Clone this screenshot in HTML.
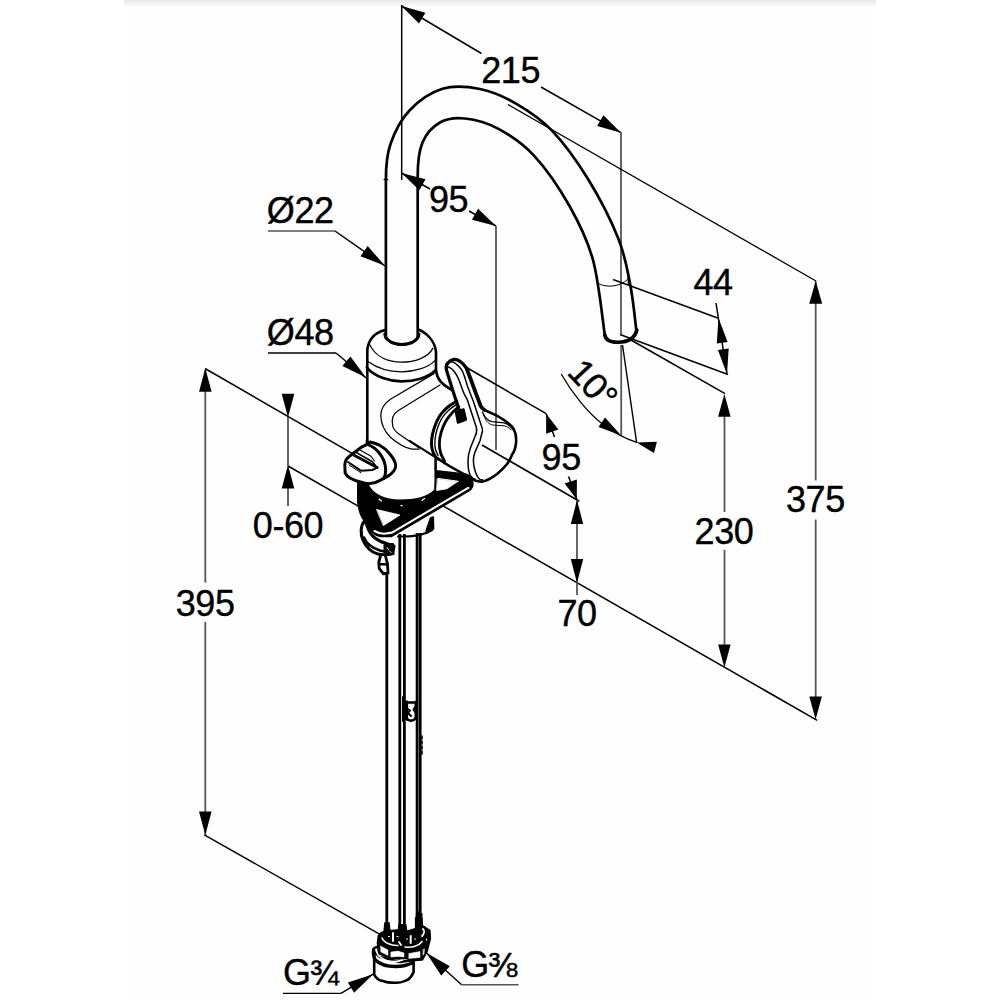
<!DOCTYPE html>
<html><head><meta charset="utf-8"><title>Faucet dimensions</title>
<style>
html,body{margin:0;padding:0;background:#fff;}
.sheet{position:absolute;left:124px;top:0;width:752px;height:1000px;background:#fefefe;}
body{width:1000px;height:1000px;overflow:hidden;position:relative;}
.strip{position:absolute;left:124px;top:0;width:752px;height:8px;background:linear-gradient(#e6e6e6,#f6f6f6 50%,#fefefe);}
svg{position:absolute;left:0;top:0;}
svg text{font-family:"Liberation Sans",Arial,sans-serif;fill:#000;letter-spacing:-0.4px;stroke:#000;stroke-width:0.4px;stroke-linejoin:round;}
</style></head><body>
<div class="sheet"></div>
<div class="strip"></div>
<svg width="1000" height="1000" viewBox="0 0 1000 1000">
<line x1="401.7" y1="5" x2="401.7" y2="180" stroke="#000" stroke-width="1.5" />
<line x1="401.5" y1="6" x2="481.5" y2="53.5" stroke="#000" stroke-width="1.5" />
<line x1="541" y1="87" x2="621" y2="132.7" stroke="#000" stroke-width="1.5" />
<polygon points="401.5,6.0 425.4,12.8 419.0,23.6" fill="#000"/>
<polygon points="621.0,132.7 597.1,126.1 603.4,115.3" fill="#000"/>
<text x="510.7" y="83" font-size="36" text-anchor="middle" >215</text>
<line x1="621" y1="132" x2="621" y2="334" stroke="#555" stroke-width="1.8" />
<line x1="621.2" y1="345" x2="621.2" y2="435.4" stroke="#555" stroke-width="1.8" />
<line x1="508" y1="104.5" x2="816" y2="281" stroke="#000" stroke-width="1.3" />
<line x1="815.7" y1="281" x2="815.7" y2="480.4" stroke="#555" stroke-width="1.8" />
<line x1="815.7" y1="519.6" x2="815.7" y2="700" stroke="#555" stroke-width="1.8" />
<polygon points="815.7,281.0 822.2,303.8 809.2,303.8" fill="#000"/>
<polygon points="815.6,719.6 809.3,696.4 821.9,696.4" fill="#000"/>
<text x="815.4" y="511.5" font-size="36" text-anchor="middle" >375</text>
<line x1="631" y1="340" x2="725" y2="393.6" stroke="#000" stroke-width="1.5" />
<line x1="724.5" y1="400" x2="724.5" y2="512" stroke="#555" stroke-width="1.8" />
<line x1="724.5" y1="550" x2="724.5" y2="650" stroke="#555" stroke-width="1.8" />
<polygon points="724.4,394.0 730.6,416.8 718.1,416.8" fill="#000"/>
<polygon points="724.4,667.4 718.1,644.6 730.6,644.6" fill="#000"/>
<text x="724" y="544" font-size="36" text-anchor="middle" >230</text>
<line x1="613" y1="279.5" x2="719" y2="318.5" stroke="#000" stroke-width="1.4" />
<line x1="620" y1="334.5" x2="728" y2="374.5" stroke="#000" stroke-width="1.5" />
<line x1="716" y1="303" x2="727" y2="374" stroke="#000" stroke-width="1.5" />
<polygon points="718.5,318.0 727.6,341.9 716.8,343.5" fill="#000"/>
<polygon points="727.0,374.0 717.9,350.1 728.7,348.5" fill="#000"/>
<text x="713" y="295" font-size="36" text-anchor="middle" >44</text>
<line x1="622.5" y1="345" x2="636.6" y2="442.4" stroke="#000" stroke-width="1.4" />
<path d="M561.5,374.5 C572,393 588,413 603,424.5 C613,432 625,438.5 636.6,442.4" stroke="#000" stroke-width="1.3" fill="none" stroke-linecap="round" stroke-linejoin="round" />
<polygon points="621.2,435.4 598.5,427.0 605.0,417.4" fill="#000"/>
<polygon points="636.6,442.4 656.9,441.8 654.0,453.0" fill="#000"/>
<text font-size="36" transform="translate(566,373.2) rotate(47)" x="0" y="0" style="letter-spacing:-0.8px">10°</text>
<line x1="401.5" y1="173" x2="430" y2="189" stroke="#000" stroke-width="1.5" />
<line x1="469" y1="211" x2="496" y2="226" stroke="#000" stroke-width="1.5" />
<polygon points="401.5,173.0 425.5,179.2 419.4,190.2" fill="#000"/>
<polygon points="496.0,226.0 472.0,219.8 478.1,208.8" fill="#000"/>
<text x="448.5" y="212" font-size="36" text-anchor="middle" >95</text>
<line x1="496" y1="226" x2="496" y2="450" stroke="#555" stroke-width="1.8" />
<line x1="467.4" y1="368" x2="546.2" y2="413.7" stroke="#000" stroke-width="1.5" />
<line x1="482" y1="445" x2="579.3" y2="501.3" stroke="#000" stroke-width="1.6" />
<line x1="546.2" y1="413.7" x2="576.8" y2="499.5" stroke="#000" stroke-width="1.5" />
<polygon points="546.2,413.7 558.4,429.6 546.1,433.8" fill="#000"/>
<polygon points="576.8,499.5 564.6,483.6 576.9,479.4" fill="#000"/>
<rect x="540" y="437" width="44" height="39.5" fill="#fefefe"/>
<text x="561.2" y="469.5" font-size="36" text-anchor="middle" >95</text>
<line x1="205" y1="368.5" x2="353.4" y2="454.2" stroke="#000" stroke-width="1.55" />
<line x1="443.4" y1="506.1" x2="817.2" y2="720.4" stroke="#000" stroke-width="1.55" />
<line x1="288" y1="466" x2="359.5" y2="506.8" stroke="#000" stroke-width="1.5" />
<line x1="205.3" y1="370" x2="205.3" y2="582.5" stroke="#555" stroke-width="1.8" />
<line x1="205.3" y1="622" x2="205.3" y2="835" stroke="#555" stroke-width="1.8" />
<polygon points="205.3,368.3 211.6,391.8 199.0,391.8" fill="#000"/>
<polygon points="205.3,835.0 199.0,811.5 211.6,811.5" fill="#000"/>
<text x="205.2" y="615.5" font-size="36" text-anchor="middle" >395</text>
<line x1="204.3" y1="834.9" x2="380" y2="934.4" stroke="#000" stroke-width="1.4" />
<line x1="288" y1="417" x2="288" y2="466" stroke="#555" stroke-width="1.8" />
<line x1="288" y1="488" x2="288" y2="506" stroke="#555" stroke-width="1.8" />
<polygon points="288.0,417.3 281.7,393.8 294.3,393.8" fill="#000"/>
<polygon points="288.0,465.0 294.3,488.5 281.7,488.5" fill="#000"/>
<text x="288" y="537.5" font-size="36" text-anchor="middle" >0-60</text>
<line x1="577" y1="500" x2="577" y2="595" stroke="#555" stroke-width="1.8" />
<polygon points="577.0,500.0 583.2,524.0 570.8,524.0" fill="#000"/>
<polygon points="577.0,583.0 570.8,559.0 583.2,559.0" fill="#000"/>
<text x="577" y="626" font-size="36" text-anchor="middle" >70</text>
<text x="266.8" y="222.5" font-size="36" text-anchor="start" >Ø22</text>
<line x1="268" y1="231" x2="335" y2="231" stroke="#555" stroke-width="1.5" />
<line x1="335" y1="231" x2="385" y2="266" stroke="#000" stroke-width="1.5" />
<polygon points="385.0,265.8 360.5,256.3 367.7,246.1" fill="#000"/>
<text x="266.8" y="344.5" font-size="36" text-anchor="start" >Ø48</text>
<line x1="268" y1="353" x2="336" y2="353" stroke="#000" stroke-width="1.5" />
<line x1="336" y1="353" x2="366" y2="378" stroke="#000" stroke-width="1.5" />
<polygon points="366.0,377.5 342.4,366.0 350.4,356.4" fill="#000"/>
<text x="283" y="985" font-size="36" text-anchor="start" >G<tspan stroke="#000" stroke-width="0.5" dx="-0.8" font-size="35">¾</tspan></text>
<line x1="283" y1="993.4" x2="341" y2="993.4" stroke="#000" stroke-width="1.4" />
<line x1="341" y1="993.4" x2="373" y2="974.2" stroke="#000" stroke-width="1.4" />
<polygon points="373.2,974.2 354.1,992.8 347.9,982.6" fill="#000"/>
<text x="461.2" y="977" font-size="36" text-anchor="start" >G<tspan stroke="#000" stroke-width="0.5" dx="-0.8" font-size="35">⅜</tspan></text>
<line x1="461.6" y1="984.7" x2="518.6" y2="984.7" stroke="#555" stroke-width="1.5" />
<line x1="461.6" y1="984.7" x2="426.2" y2="952.8" stroke="#000" stroke-width="1.4" />
<polygon points="426.2,952.8 449.8,966.2 441.2,975.4" fill="#000"/>
<path d="M385.9,338 L385.9,179.5 C385.90,167.67 386.57,155.50 390.50,144.00 C394.43,132.50 400.83,119.70 409.50,110.50 C418.17,101.30 430.75,92.38 442.50,88.80 C454.25,85.22 467.75,86.53 480.00,89.00 C492.25,91.47 504.00,96.67 516.00,103.60 C528.00,110.53 540.00,118.03 552.00,130.60 C564.00,143.17 576.95,161.03 588.00,179.00 C599.05,196.97 611.25,220.73 618.30,238.40 C625.35,256.07 627.30,269.73 630.30,285.00 C633.30,300.27 635.30,322.50 636.30,330.00" stroke="#000" stroke-width="2.7" fill="none" stroke-linecap="round" stroke-linejoin="round" />
<path d="M384.3,179.5 L387.5,179.5" stroke="#000" stroke-width="1.6" fill="none" stroke-linecap="round" stroke-linejoin="round" />
<path d="M417.7,338 L417.7,176 C417.70,164.83 418.78,151.42 422.50,142.50 C426.22,133.58 432.92,126.50 440.00,122.50 C447.08,118.50 455.33,117.48 465.00,118.50 C474.67,119.52 486.50,122.42 498.00,128.60 C509.50,134.78 522.08,142.70 534.00,155.60 C545.92,168.50 559.67,188.60 569.50,206.00 C579.33,223.40 587.12,238.50 593.00,260.00 C598.88,281.50 602.83,322.50 604.80,335.00" stroke="#000" stroke-width="2.7" fill="none" stroke-linecap="round" stroke-linejoin="round" />
<path d="M604.8,335 C606,340 609,342 618,342.3 C628,342 635,338 636.8,330" stroke="#000" stroke-width="3.6" fill="none" stroke-linecap="round" stroke-linejoin="round" />
<path d="M598.5,283.5 C606,288 620,287 627.5,279.5" stroke="#000" stroke-width="1" fill="none" stroke-linecap="round" stroke-linejoin="round" />
<path d="M628.3,277 L628.5,284" stroke="#000" stroke-width="1.6" fill="none" stroke-linecap="round" stroke-linejoin="round" />
<path d="M384.8,334 C386.3,348 417.5,348 419,334" stroke="#000" stroke-width="3" fill="none" stroke-linecap="round" stroke-linejoin="round" />
<path d="M367.3,444 L367.3,350 C368.3,340 374,333 385,330" stroke="#000" stroke-width="2.6" fill="none" stroke-linecap="round" stroke-linejoin="round" />
<path d="M419,329.8 C428,334 435,342 436,352 L436,370 C437,379 441,384 452,390" stroke="#000" stroke-width="2.6" fill="none" stroke-linecap="round" stroke-linejoin="round" />
<path d="M369.8,344.8 C376,358 390,362 401.6,362.2 C414,362 428,358 432.8,348.4" stroke="#000" stroke-width="1.25" fill="none" stroke-linecap="round" stroke-linejoin="round" />
<path d="M368,361.6 C378,369 390,371.8 401.6,371.8 C414,371.8 428,368 435.2,360.4" stroke="#000" stroke-width="1.25" fill="none" stroke-linecap="round" stroke-linejoin="round" />
<path d="M366.8,367.6 C375,377 390,381.4 401.6,381.4 C414,381.4 428,378 435.8,370" stroke="#000" stroke-width="2.6" fill="none" stroke-linecap="round" stroke-linejoin="round" />
<path d="M434,373.6 L390.8,399 C384,403.5 380.8,409 380.8,415.6 C381,424 385,432 390.4,437.2 C397,443 406,448 412,449.2 L419.2,449.2" stroke="#000" stroke-width="1.25" fill="none" stroke-linecap="round" stroke-linejoin="round" />
<path d="M440,385 L398,410.8 C393,414 391,419 392.8,426.4 C394,430 397,433 400,434.8 L419.2,448" stroke="#000" stroke-width="1.25" fill="none" stroke-linecap="round" stroke-linejoin="round" />
<path d="M409.6,440.8 L436,457.6" stroke="#000" stroke-width="2" fill="none" stroke-linecap="round" stroke-linejoin="round" />
<path d="M435.6,457.6 L435.6,490" stroke="#000" stroke-width="2.6" fill="none" stroke-linecap="round" stroke-linejoin="round" />
<path d="M456.80,401.20 C455.30,402.17 450.67,404.53 447.80,407.00 C444.93,409.47 441.87,412.50 439.60,416.00 C437.33,419.50 435.53,424.00 434.20,428.00 C432.87,432.00 431.93,436.42 431.60,440.00 C431.27,443.58 431.63,446.83 432.20,449.50 C432.77,452.17 433.83,454.33 435.00,456.00 C436.17,457.67 438.50,458.92 439.20,459.50" stroke="#000" stroke-width="3" fill="none" stroke-linecap="round" stroke-linejoin="round" />
<path d="M458.00,403.50 C456.58,404.50 452.17,407.08 449.50,409.50 C446.83,411.92 444.05,414.75 442.00,418.00 C439.95,421.25 438.37,425.33 437.20,429.00 C436.03,432.67 435.30,436.67 435.00,440.00 C434.70,443.33 434.90,446.42 435.40,449.00 C435.90,451.58 437.57,454.42 438.00,455.50" stroke="#000" stroke-width="1.4" fill="none" stroke-linecap="round" stroke-linejoin="round" />
<path d="M458.80,406.80 C457.67,407.83 454.23,410.47 452.00,413.00 C449.77,415.53 447.20,418.80 445.40,422.00 C443.60,425.20 442.20,428.70 441.20,432.20 C440.20,435.70 439.50,439.53 439.40,443.00 C439.30,446.47 439.75,450.00 440.60,453.00 C441.45,456.00 443.85,459.67 444.50,461.00" stroke="#000" stroke-width="2.8" fill="none" stroke-linecap="round" stroke-linejoin="round" />
<path d="M439.2,459.5 C444,463 456,470 469.2,476.8" stroke="#000" stroke-width="2.6" fill="none" stroke-linecap="round" stroke-linejoin="round" />
<path d="M459.5,411 L452.3,389 L446.3,369.5 C445.7,366 446.3,364.5 447.8,363 C449.3,361 451.3,359.8 453.8,359.4 C456.3,359 458.3,360 459.8,361.2 C462.5,363 465,366 466.6,368.4" stroke="#000" stroke-width="3.2" fill="none" stroke-linecap="round" stroke-linejoin="round" />
<path d="M466.6,368.4 L471,380 L475.8,393.2 L480.6,405.8 C481.5,407.5 483,409 484.5,410" stroke="#000" stroke-width="3.8" fill="none" stroke-linecap="round" stroke-linejoin="round" />
<path d="M484.5,410 L496.8,415.6 C503,419 510,424 513.6,428.8 C516,433 516.5,438 516,443.2 C515.5,448 514,452 512.4,454 C510,460 508,463 506.4,464.8 C503,469 500,471.5 498,473.2 C494,476.5 489,480 482.4,481.6 C478,482 473,480 469.2,476.8" stroke="#000" stroke-width="2.6" fill="none" stroke-linecap="round" stroke-linejoin="round" />
<path d="M447.3,369 C447.5,367 448.5,366.8 449.4,367.4 C451.5,368.5 453.5,370.5 454.8,372.2 C456.5,374.5 458,377.5 459,380 L463.8,393.2 L467.4,400 L476.4,427.6 C477,431 476.5,434 475.2,436 L470.4,448 C468.5,453 468,458 468,462 C468,468 469,473 470.4,475.6 C472,478 474,479 475.2,479.2" stroke="#000" stroke-width="1.5" fill="none" stroke-linecap="round" stroke-linejoin="round" />
<path d="M447.5,364.5 C448.5,362.5 449.5,362 450.6,361.7 C452.5,361.5 454.5,362.5 456,363.8 C458.5,365.5 460.5,368 462,370.4 C463.5,373 464.5,376 467.4,386 L473.4,401.6 L481.2,425.2 C482.5,428 482.6,430 482.4,431.2 L480,440.8 L475.2,451.6 C473.5,456 473.4,459 473.4,460 C473.4,466 474,470 477.6,476.8 C479,479 481,480 482.4,479.8" stroke="#000" stroke-width="1.5" fill="none" stroke-linecap="round" stroke-linejoin="round" />
<path d="M482.4,412 C484,416 485.5,418 487.2,419.2 C488.5,420.5 490,421.3 492,421.6 L504,422.8 C506.5,423.3 508.5,424.5 510,426.4 L513.6,430" stroke="#000" stroke-width="1.25" fill="none" stroke-linecap="round" stroke-linejoin="round" />
<path d="M483.6,414.4 C485,419 486.5,421.5 488.4,422.8 C490,424.3 492,425 494.4,425.2 L504,425.8 C507,426.3 509.5,428 511.2,430" stroke="#000" stroke-width="1" fill="none" stroke-linecap="round" stroke-linejoin="round" />
<path d="M456,412 L463.5,409.5 L465.8,419.5 L458,422.5 Z" stroke="#000" stroke-width="2.5" fill="#000" stroke-linecap="round" stroke-linejoin="round" />
<path d="M358,483 L358,502 C359,510 361,516 364,520 C367,526 369,529 371.5,530.5 C374,534 377,536 380.5,536.2 L391.5,536.2 L469.5,490.2 C472,488 473,485.5 472.5,482.5 C471.5,479 470,476.5 467.5,475 C465,473.8 462,473.5 458.5,473.5 L436,471 L436,486 Z" stroke="#000" stroke-width="2" fill="#000" stroke-linecap="round" stroke-linejoin="round" />
<path d="M368.5,478 L368.5,484 C373,494 385,499.5 400,499.5 C415,499.5 428,496.5 434.2,489.5 L434.2,470 L400,470 Z" stroke="none" stroke-width="0" fill="#fefefe" stroke-linecap="round" stroke-linejoin="round" />
<path d="M367,440 L367,446" stroke="#000" stroke-width="2.6" fill="none" stroke-linecap="round" stroke-linejoin="round" />
<path d="M376.8,509.5 L400,515 L383.6,525.5 Z" stroke="#fefefe" stroke-width="0.8" fill="#fefefe" stroke-linecap="round" stroke-linejoin="round" />
<path d="M437.5,479 L457.5,481.7 L447,488.8 L436.8,490.5 Z" stroke="#fefefe" stroke-width="0.8" fill="#fefefe" stroke-linecap="round" stroke-linejoin="round" />
<path d="M437,475 L462,478" stroke="#000" stroke-width="3" fill="none" stroke-linecap="round" stroke-linejoin="round" />
<path d="M438,478.4 L458.4,481.3" stroke="#fefefe" stroke-width="1" fill="none" stroke-linecap="round" stroke-linejoin="round" />
<path d="M374.5,531 C378,533 381,533.8 384,533.8 L392,532.6 L468.2,487.8" stroke="#fefefe" stroke-width="2.1" fill="none" stroke-linecap="round" stroke-linejoin="round" />
<path d="M379,499 L381.5,501 M422,500.5 L424.5,498.5 M401,505.6 L402.2,505.6" stroke="#fefefe" stroke-width="1.2" fill="none" stroke-linecap="round" stroke-linejoin="round" />
<path d="M396,535.5 L432,514.5 L434,517 L434,528 C431,531 428,532.5 426,533 C420,535.5 408,536.5 397,536.2 Z" stroke="none" stroke-width="0" fill="#fefefe" stroke-linecap="round" stroke-linejoin="round" />
<path d="M433,527 C431,531 428,532.5 426,533 C420,535.5 408,536.8 398,536.5" stroke="#000" stroke-width="2" fill="none" stroke-linecap="round" stroke-linejoin="round" />
<path d="M430.5,518 L433.3,517 L433.6,528.5 C432,531 429,532 426,531 Z" stroke="#000" stroke-width="1.5" fill="#000" stroke-linecap="round" stroke-linejoin="round" />
<path d="M365,520.5 C362.5,523 361.5,526 361.2,530 C361,534 361.5,537 363,540 C365,544.5 367.5,547.5 369,549 C372,552 375,553.3 378,554 L384,555 L392.5,553.5 L394,546 L388,544 C383,543 379,541 375,538 C371.5,535.5 369,531.5 367.5,527 Z" stroke="#000" stroke-width="3.1" fill="#fefefe" stroke-linecap="round" stroke-linejoin="round" />
<path d="M364,537.5 C366,543 372,548 380,550.5 L384.5,551.5" stroke="#000" stroke-width="2.6" fill="none" stroke-linecap="round" stroke-linejoin="round" />
<path d="M384.5,545 L393,544 L393.5,554 L384.5,555.5 Z" stroke="#000" stroke-width="2" fill="#000" stroke-linecap="round" stroke-linejoin="round" />
<path d="M387,547.5 L388.5,549.5 M389.5,551 L391,552.5" stroke="#fefefe" stroke-width="1" fill="none" stroke-linecap="round" stroke-linejoin="round" />
<path d="M380.5,556 L378.8,562 L379.2,568.5 L383.5,573.8 L388,573 L387.5,564 L385.5,556" stroke="#000" stroke-width="2.8" fill="#fefefe" stroke-linecap="round" stroke-linejoin="round" />
<path d="M379,564 L387.5,564.5" stroke="#000" stroke-width="2.4" fill="none" stroke-linecap="round" stroke-linejoin="round" />
<line x1="386.8" y1="573" x2="386.8" y2="926" stroke="#000" stroke-width="2.8" />
<line x1="399.8" y1="534" x2="399.8" y2="926" stroke="#000" stroke-width="2.8" />
<line x1="404.4" y1="534" x2="404.4" y2="926" stroke="#000" stroke-width="2.8" />
<line x1="417.1" y1="533" x2="417.1" y2="926" stroke="#000" stroke-width="2.8" />
<line x1="420.2" y1="533" x2="420.2" y2="926" stroke="#000" stroke-width="2.8" />
<path d="M405.5,702 L416,702 L416,721.5 L405.5,721.5 Z" stroke="none" stroke-width="0" fill="#fefefe" stroke-linecap="round" stroke-linejoin="round" />
<path d="M404.5,702.5 L417,702.5" stroke="#000" stroke-width="2.6" fill="none" stroke-linecap="round" stroke-linejoin="round" />
<path d="M406.3,702 L406.3,719" stroke="#000" stroke-width="3.6" fill="none" stroke-linecap="round" stroke-linejoin="round" />
<path d="M415.8,702 L415.8,719" stroke="#000" stroke-width="2.6" fill="none" stroke-linecap="round" stroke-linejoin="round" />
<path d="M405.5,716.5 C408,722 414,722 416.5,716.5" stroke="#000" stroke-width="2.6" fill="none" stroke-linecap="round" stroke-linejoin="round" />
<path d="M407,708.5 L410,710.5 L408,713 L411,716 M416,706 L413.5,709.5 L415.5,712.5" stroke="#000" stroke-width="2" fill="none" stroke-linecap="round" stroke-linejoin="round" />
<path d="M403,697 L403,721" stroke="#000" stroke-width="2" fill="none" stroke-linecap="round" stroke-linejoin="round" />
<path d="M422,736 L422,756" stroke="#000" stroke-width="1.6" fill="none" stroke-linecap="round" stroke-linejoin="round" stroke-dasharray="3 2"/>
<path d="M418.6,914 L418.6,930" stroke="#000" stroke-width="5.6" fill="none" stroke-linecap="round" stroke-linejoin="round" />
<path d="M421.8,914 L421.8,924" stroke="#000" stroke-width="1.6" fill="none" stroke-linecap="round" stroke-linejoin="round" stroke-dasharray="2 1.5"/>
<path d="M385.3,923 L388.7,923 L389.5,931 L384.5,931 Z" stroke="#000" stroke-width="2.2" fill="#000" stroke-linecap="round" stroke-linejoin="round" />
<path d="M399.3,925 L405.5,925 L406.5,934 L398.5,932 Z" stroke="#000" stroke-width="2.2" fill="#000" stroke-linecap="round" stroke-linejoin="round" />
<path d="M416,918 L421.5,918 L422,926 L425,927.5 L425,934 L416,934 Z" stroke="#000" stroke-width="2.2" fill="#000" stroke-linecap="round" stroke-linejoin="round" />
<path d="M378.9,936 C380,934 383,932 386.1,931.5 L397,930.5 L408,931.5 L423,927 L429.3,930.6 L429.8,938.7 L426.6,951.3 L422.1,959.4 L410.4,960.3 L406.8,957.6 L399.6,958.5 L389.7,957.6 L378.9,953.1 L378,943.2 Z" stroke="#000" stroke-width="2.6" fill="#000" stroke-linecap="round" stroke-linejoin="round" />
<path d="M380.5,946 L388,950 L388,955.5 L381,952 Z" stroke="#fefefe" stroke-width="0.5" fill="#fefefe" stroke-linecap="round" stroke-linejoin="round" />
<path d="M391,952 L398,951 L404,953 L404,957 L398,956.5 L391,957 Z" stroke="#fefefe" stroke-width="0.5" fill="#fefefe" stroke-linecap="round" stroke-linejoin="round" />
<path d="M409,953.5 L420,951.5 L420,957.5 L409,958.5 Z" stroke="#fefefe" stroke-width="0.5" fill="#fefefe" stroke-linecap="round" stroke-linejoin="round" />
<path d="M423.5,949 L424.5,949 L424,954 L423,955 Z" stroke="#fefefe" stroke-width="0.4" fill="#fefefe" stroke-linecap="round" stroke-linejoin="round" />
<path d="M382,938 C384,943 392,946 398,945.5" stroke="#fefefe" stroke-width="1.6" fill="none" stroke-linecap="round" stroke-linejoin="round" />
<path d="M405,947 C412,948 419,946 422,941.5" stroke="#fefefe" stroke-width="1.6" fill="none" stroke-linecap="round" stroke-linejoin="round" />
<path d="M393,933 L393,941 M410.7,936 L410.7,943" stroke="#fefefe" stroke-width="2" fill="none" stroke-linecap="round" stroke-linejoin="round" />
<path d="M423,929 C425,931 424,934 422,936" stroke="#fefefe" stroke-width="1.8" fill="none" stroke-linecap="round" stroke-linejoin="round" />
<path d="M399,942 L401,945" stroke="#fefefe" stroke-width="1.8" fill="none" stroke-linecap="round" stroke-linejoin="round" />
<path d="M388.5,936.5 L389.5,936.5 M397,936.5 L398,936.5 M406.5,939 L407.5,939 M414.5,939 L415.5,939 M426.5,939 L426.5,940" stroke="#fefefe" stroke-width="1.2" fill="none" stroke-linecap="round" stroke-linejoin="round" />
<path d="M374.2,952 L374.2,974.7 C376.5,979 380.5,981 383,981 C387.5,983 392.5,982.8 396.5,982.8 C401.5,982.8 404.5,981 407.3,980.1 C410.5,978 412.5,975 413.6,972 L413.6,960 L400,962 L380,957 Z" stroke="#000" stroke-width="2.6" fill="#fefefe" stroke-linecap="round" stroke-linejoin="round" />
<path d="M373.6,950 C373,955 374,958 375.5,960 C380.5,965 388.5,966.5 395.5,966.5 C402.5,966.5 408.5,965 412.5,962.5" stroke="#000" stroke-width="3.4" fill="none" stroke-linecap="round" stroke-linejoin="round" />
<path d="M376.5,951.5 C377.5,956 381.5,958.5 386.5,960.5 C392.5,962 398.5,961.5 402.5,960" stroke="#fefefe" stroke-width="1.4" fill="none" stroke-linecap="round" stroke-linejoin="round" />
<path d="M373.2,950.4 C373.4,948 375.4,947 378.4,947" stroke="#000" stroke-width="2.4" fill="none" stroke-linecap="round" stroke-linejoin="round" />
<path d="M344.8,465.2 C345,462 345.5,460.5 346.5,459.2 C348,457 350,455.8 352.4,454 L362,446.8 L367.6,444.2 L370,442 C373,442.5 376.5,443.7 379.6,445.2 C383.5,447.3 387,450.5 389.2,453.2 C392,456.5 394,459.5 394.8,462 C395.8,464 396,465.5 395.6,466.8 C395.2,468.8 394.3,470.3 393.2,471.6 C391.5,473.8 389.5,475.3 387.6,476.4 L379.6,480.6 C376.5,482.3 373,483.4 370,483.6 C366.5,483.8 363.5,483 360.4,482 C356.5,481 353,479.8 350,478 C347.5,476.5 346,475 345.2,473.2 Z" stroke="#000" stroke-width="3.0" fill="#fefefe" stroke-linecap="round" stroke-linejoin="round" />
<path d="M367.6,444.4 C370.5,445.5 372.8,446.8 374.8,448.4 C377.5,450.5 379.5,453 381.2,455.6 C383.3,458.8 384.6,462 385.2,465.2 C385.9,468.5 385.8,471.8 385.2,474.8 L383.6,478.5" stroke="#000" stroke-width="3.0" fill="none" stroke-linecap="round" stroke-linejoin="round" />
<path d="M353.2,454.8 L377.2,467.6" stroke="#000" stroke-width="2.8" fill="none" stroke-linecap="round" stroke-linejoin="round" />
<path d="M356.5,452.6 L372,461.5 L375.5,465.5" stroke="#000" stroke-width="1.6" fill="none" stroke-linecap="round" stroke-linejoin="round" />
<path d="M360.5,450.3 L371,456.3 L374.5,461" stroke="#000" stroke-width="1.1" fill="none" stroke-linecap="round" stroke-linejoin="round" />
<path d="M348,462 L361.2,470.8 L372.4,470 L377.2,467.6" stroke="#000" stroke-width="2" fill="none" stroke-linecap="round" stroke-linejoin="round" />
<path d="M349,465 L361,472.8" stroke="#000" stroke-width="1" fill="none" stroke-linecap="round" stroke-linejoin="round" />
</svg>
</body></html>
